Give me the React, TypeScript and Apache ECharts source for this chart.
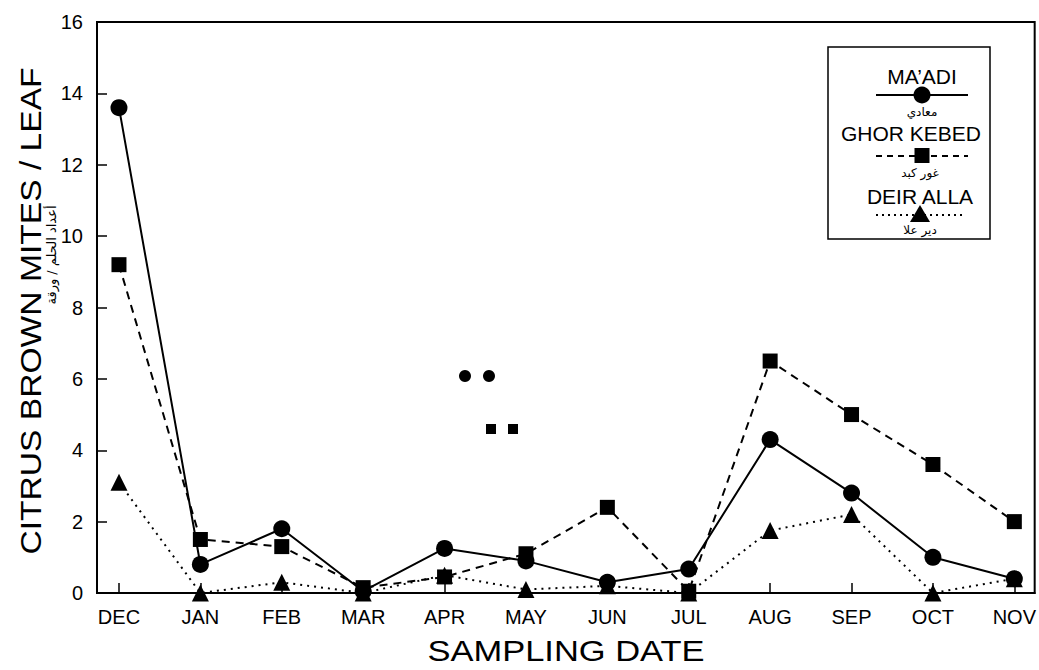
import React, { useEffect, useRef } from "react";
import * as echarts from "echarts";

const months = ["DEC", "JAN", "FEB", "MAR", "APR", "MAY", "JUN", "JUL", "AUG", "SEP", "OCT", "NOV"];
const maadi = [13.6, 0.8, 1.8, 0.05, 1.25, 0.9, 0.3, 0.67, 4.3, 2.8, 1.0, 0.4];
const ghorKebed = [9.2, 1.5, 1.3, 0.15, 0.45, 1.1, 2.4, 0.05, 6.5, 5.0, 3.6, 2.0];
const deirAlla = [3.1, 0.0, 0.3, 0.0, 0.5, 0.1, 0.2, 0.0, 1.75, 2.2, 0.0, 0.4];
const yTicks = [0, 2, 4, 6, 8, 10, 12, 14, 16];

const FONT = "Liberation Sans, Arial, Helvetica, sans-serif";
const AR = "DejaVu Sans, sans-serif";

export default function App() {
  const ref = useRef<HTMLDivElement>(null);
  useEffect(() => {
    if (!ref.current) return;
    const chart = echarts.init(ref.current, undefined, { renderer: "svg" });
    const idx = months.map((_, i) => i);
    const toPairs = (arr: number[]) => arr.map((v, i) => [i, v]);
    const lx = 922;
    chart.setOption({
      animation: false,
      backgroundColor: "#ffffff",
      grid: {
        left: 97,
        right: 4,
        top: 22,
        bottom: 77,
        show: true,
        borderColor: "#000",
        borderWidth: 2,
        backgroundColor: "transparent",
      },
      xAxis: {
        type: "value",
        min: -0.27,
        max: 11.25,
        axisLine: { show: true, onZero: false, lineStyle: { color: "#000", width: 2 } },
        axisTick: {
          show: true,
          inside: true,
          length: 10,
          customValues: idx,
          lineStyle: { color: "#000", width: 1.5 },
        },
        axisLabel: {
          customValues: idx,
          formatter: (v: number) => months[Math.round(v)] ?? "",
          color: "#000",
          fontSize: 20,
          fontFamily: FONT,
          margin: 14,
        },
        splitLine: { show: false },
      },
      yAxis: {
        type: "value",
        min: 0,
        max: 16,
        interval: 2,
        axisLine: { show: true, onZero: false, lineStyle: { color: "#000", width: 2 } },
        axisTick: { show: true, inside: true, length: 10, lineStyle: { color: "#000", width: 1.5 } },
        axisLabel: {
          customValues: yTicks,
          color: "#000",
          fontSize: 20,
          fontFamily: FONT,
          margin: 14,
        },
        splitLine: { show: false },
      },
      series: [
        {
          name: "MA’ADI",
          type: "line",
          data: toPairs(maadi),
          symbol: "circle",
          symbolSize: 17,
          itemStyle: { color: "#000" },
          lineStyle: { color: "#000", width: 2, type: "solid" },
          z: 3,
        },
        {
          name: "GHOR KEBED",
          type: "line",
          data: toPairs(ghorKebed),
          symbol: "rect",
          symbolSize: 15,
          itemStyle: { color: "#000" },
          lineStyle: { color: "#000", width: 2, type: [8, 6] },
          z: 4,
        },
        {
          name: "DEIR ALLA",
          type: "line",
          data: toPairs(deirAlla),
          symbol: "triangle",
          symbolSize: 17,
          itemStyle: { color: "#000" },
          lineStyle: { color: "#000", width: 2, type: [2, 5] },
          z: 5,
        },
      ],
      graphic: [
        // y axis title
        {
          type: "text",
          x: 31,
          y: 311,
          rotation: Math.PI / 2,
          scaleX: 1.12,
          style: {
            text: "CITRUS BROWN MITES / LEAF",
            fontSize: 30,
            fontFamily: FONT,
            fill: "#000",
            align: "center",
            verticalAlign: "middle",
          },
        },
        {
          type: "text",
          x: 51,
          y: 255,
          rotation: Math.PI / 2,
          style: {
            text: "أعداد الحلم / ورقة",
            fontSize: 13,
            fontFamily: AR,
            fill: "#000",
            align: "center",
            verticalAlign: "middle",
          },
        },
        // x axis title
        {
          type: "text",
          x: 566,
          y: 651,
          scaleX: 1.15,
          style: {
            text: "SAMPLING DATE",
            fontSize: 30,
            fontFamily: FONT,
            fill: "#000",
            align: "center",
            verticalAlign: "middle",
          },
        },
        // stray marks
        { type: "circle", shape: { cx: 465, cy: 376, r: 6 }, style: { fill: "#000" } },
        { type: "circle", shape: { cx: 489, cy: 376, r: 6 }, style: { fill: "#000" } },
        { type: "rect", shape: { x: 486, y: 424, width: 10, height: 10 }, style: { fill: "#000" } },
        { type: "rect", shape: { x: 508, y: 424, width: 10, height: 10 }, style: { fill: "#000" } },
        // legend box
        {
          type: "rect",
          shape: { x: 828, y: 47, width: 162, height: 192 },
          style: { fill: "#fff", stroke: "#000", lineWidth: 1.5 },
          z: 10,
        },
        {
          type: "text",
          x: lx,
          y: 76,
          z: 11,
          style: { text: "MA’ADI", fontSize: 21, fontFamily: FONT, fill: "#000", align: "center", verticalAlign: "middle" },
        },
        {
          type: "line",
          z: 11,
          shape: { x1: 876, y1: 95, x2: 968, y2: 95 },
          style: { stroke: "#000", lineWidth: 2 },
        },
        { type: "circle", z: 12, shape: { cx: lx, cy: 95, r: 8.5 }, style: { fill: "#000" } },
        {
          type: "text",
          x: lx,
          y: 112,
          z: 11,
          style: { text: "معادي", fontSize: 12, fontFamily: AR, fill: "#000", align: "center", verticalAlign: "middle" },
        },
        {
          type: "text",
          x: 911,
          y: 133,
          z: 11,
          style: { text: "GHOR KEBED", fontSize: 21, fontFamily: FONT, fill: "#000", align: "center", verticalAlign: "middle" },
        },
        {
          type: "line",
          z: 11,
          shape: { x1: 876, y1: 156, x2: 968, y2: 156 },
          style: { stroke: "#000", lineWidth: 2, lineDash: [6, 5] },
        },
        { type: "rect", z: 12, shape: { x: lx - 7.5, y: 148, width: 15, height: 15 }, style: { fill: "#000" } },
        {
          type: "text",
          x: 920,
          y: 173,
          z: 11,
          style: { text: "غور كبد", fontSize: 12, fontFamily: AR, fill: "#000", align: "center", verticalAlign: "middle" },
        },
        {
          type: "text",
          x: 920,
          y: 196,
          z: 11,
          style: { text: "DEIR ALLA", fontSize: 21, fontFamily: FONT, fill: "#000", align: "center", verticalAlign: "middle" },
        },
        {
          type: "line",
          z: 11,
          shape: { x1: 876, y1: 215, x2: 966, y2: 215 },
          style: { stroke: "#000", lineWidth: 2, lineDash: [2, 4] },
        },
        {
          type: "polygon",
          z: 12,
          shape: { points: [[920, 205], [910, 222], [930, 222]] },
          style: { fill: "#000" },
        },
        {
          type: "text",
          x: 920,
          y: 230,
          z: 11,
          style: { text: "دير علا", fontSize: 12, fontFamily: AR, fill: "#000", align: "center", verticalAlign: "middle" },
        },
      ],
    });
    return () => chart.dispose();
  }, []);
  return (
    <div
      ref={ref}
      style={{ position: "absolute", left: 0, top: 0, width: 1039, height: 670, background: "#fff" }}
    />
  );
}
